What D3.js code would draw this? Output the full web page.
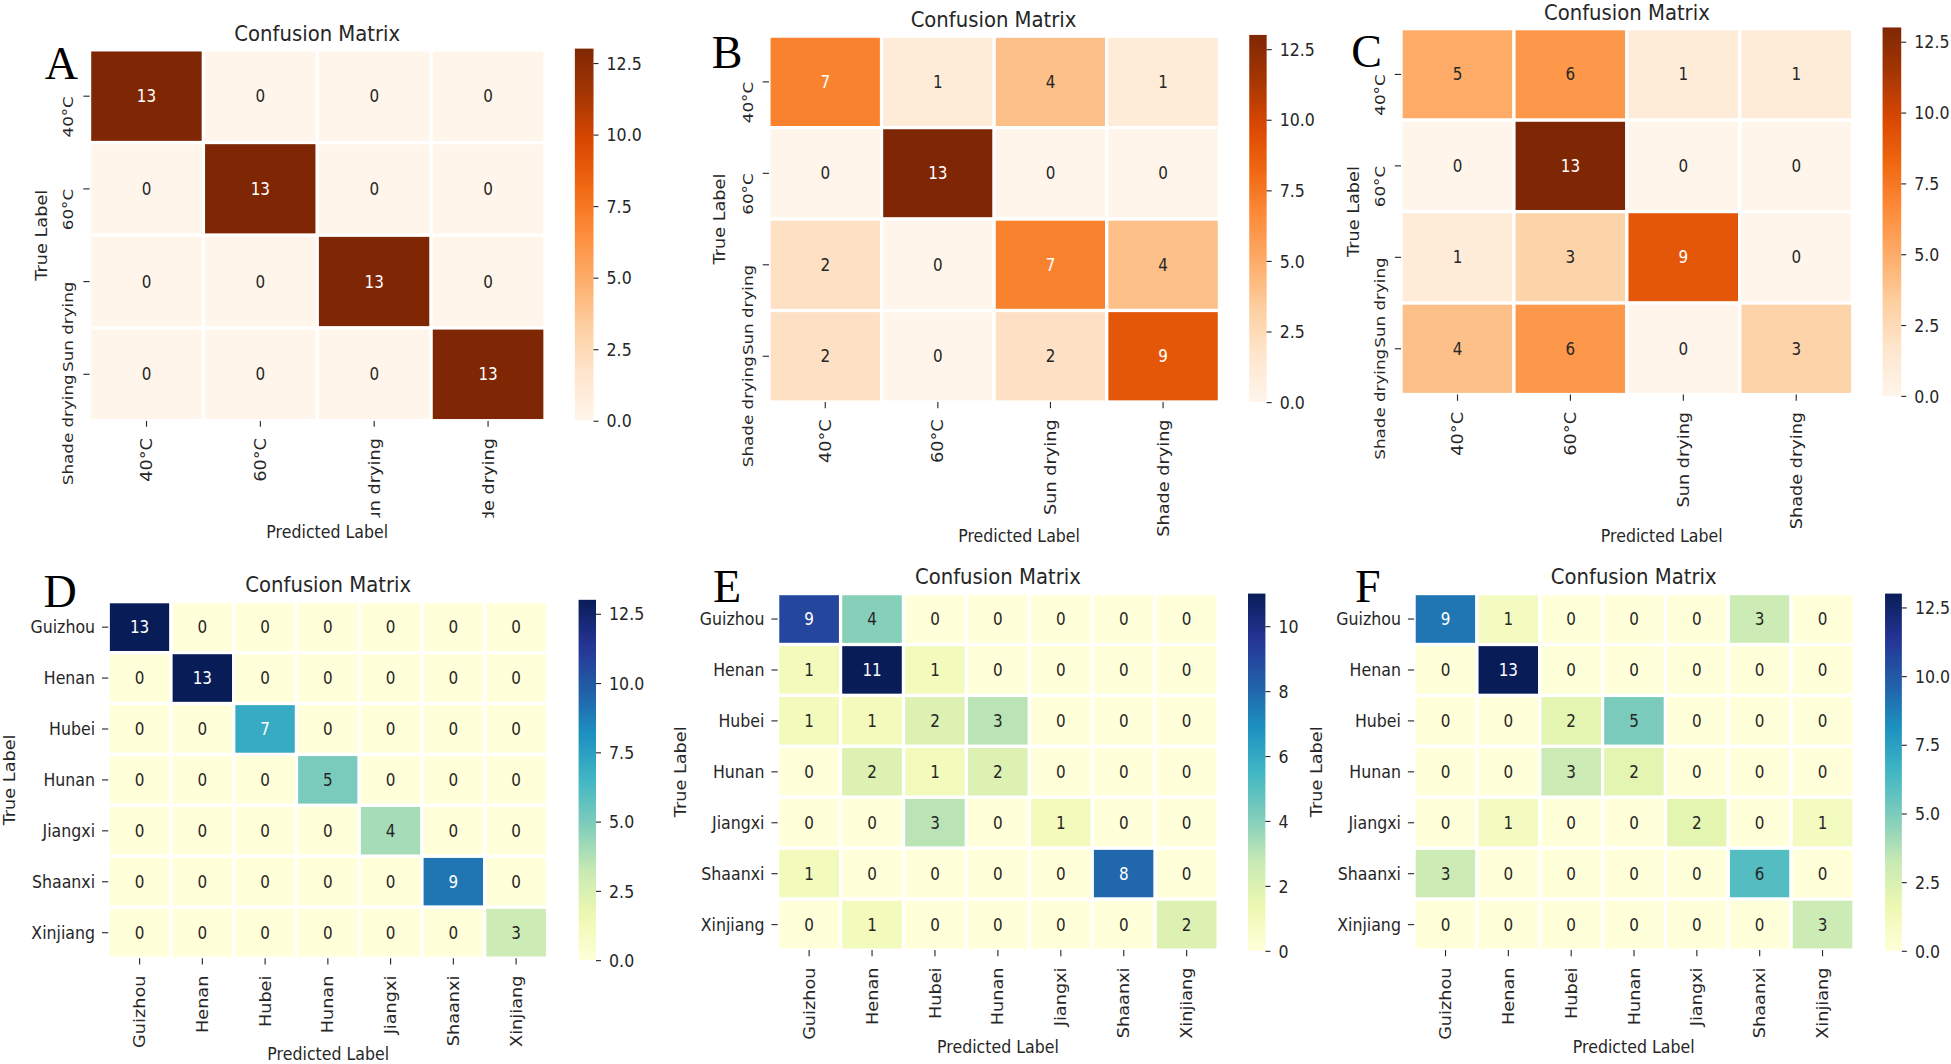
<!DOCTYPE html>
<html>
<head>
<meta charset="utf-8">
<script src="https://cdn.jsdelivr.net/npm/d3@7"></script>
<style>
  html, body { margin: 0; padding: 0; background: #fff; }
  svg { display: block; }
</style>
</head>
<body>
<svg id="chart" width="1951" height="1064" viewBox="0 0 1568 855"></svg>
<script>
// category labels
const dryingLabels = ['40°C', '60°C', 'Sun drying', 'Shade drying'];
const regionLabels = ['Guizhou', 'Henan', 'Hubei', 'Hunan', 'Jiangxi', 'Shaanxi', 'Xinjiang'];

// confusion matrices (rows = true label, cols = predicted label)
const matrixA = [
    [13, 0, 0, 0],
    [0, 13, 0, 0],
    [0, 0, 13, 0],
    [0, 0, 0, 13]
];
const matrixB = [
    [7, 1, 4, 1],
    [0, 13, 0, 0],
    [2, 0, 7, 4],
    [2, 0, 2, 9]
];
const matrixC = [
    [5, 6, 1, 1],
    [0, 13, 0, 0],
    [1, 3, 9, 0],
    [4, 6, 0, 3]
];
const matrixD = [
    [13, 0, 0, 0, 0, 0, 0],
    [0, 13, 0, 0, 0, 0, 0],
    [0, 0, 7, 0, 0, 0, 0],
    [0, 0, 0, 5, 0, 0, 0],
    [0, 0, 0, 0, 4, 0, 0],
    [0, 0, 0, 0, 0, 9, 0],
    [0, 0, 0, 0, 0, 0, 3]
];
const matrixE = [
    [9, 4, 0, 0, 0, 0, 0],
    [1, 11, 1, 0, 0, 0, 0],
    [1, 1, 2, 3, 0, 0, 0],
    [0, 2, 1, 2, 0, 0, 0],
    [0, 0, 3, 0, 1, 0, 0],
    [1, 0, 0, 0, 0, 8, 0],
    [0, 1, 0, 0, 0, 0, 2]
];
const matrixF = [
    [9, 1, 0, 0, 0, 3, 0],
    [0, 13, 0, 0, 0, 0, 0],
    [0, 0, 2, 5, 0, 0, 0],
    [0, 0, 3, 2, 0, 0, 0],
    [0, 1, 0, 0, 2, 0, 1],
    [3, 0, 0, 0, 0, 6, 0],
    [0, 0, 0, 0, 0, 0, 3]
];

// colorbar ranges and ticks
const vmax13 = 13, vmax11 = 11;
const cbTicks13 = [0, 2.5, 5, 7.5, 10, 12.5];
const cbTicks11 = [0, 2, 4, 6, 8, 10];

const FONT = "'DejaVu Sans', sans-serif";
const SERIF = "'Liberation Serif', 'Times New Roman', serif";
const INK = '#262626';
const S = 1.12;  // the source figure is a bit stretched vertically

// layout (viewBox units, 1568 x 855)
const panels = [
    { letter: 'A', labels: dryingLabels, matrix: matrixA, vmax: vmax13, ticks: cbTicks13, fmt: d3.format('.1f'),
      scheme: d3.schemeOranges[9], hm: [72, 438, 40, 338], cb: [462, 477, 39, 338], rotY: true,
      title: [255, 33], mark: [36, 63.5], yLab: 33, xLab: [263, 427.5], clipY: 416 },
    { letter: 'B', labels: dryingLabels, matrix: matrixB, vmax: vmax13, ticks: cbTicks13, fmt: d3.format('.1f'),
      scheme: d3.schemeOranges[9], hm: [618, 980, 29, 323], cb: [1004, 1018, 28, 323], rotY: true,
      title: [798.5, 21.5], mark: [572, 54.5], yLab: 578.6, xLab: [819, 430.5] },
    { letter: 'C', labels: dryingLabels, matrix: matrixC, vmax: vmax13, ticks: cbTicks13, fmt: d3.format('.1f'),
      scheme: d3.schemeOranges[9], hm: [1126, 1489, 23, 317], cb: [1513, 1528, 22, 318], rotY: true,
      title: [1307.5, 15.8], mark: [1086, 54], yLab: 1088, xLab: [1335.5, 430.5] },
    { letter: 'D', labels: regionLabels, matrix: matrixD, vmax: vmax13, ticks: cbTicks13, fmt: d3.format('.1f'),
      scheme: d3.schemeYlGnBu[9], hm: [87, 440, 483.5, 770], cb: [465, 479, 482, 771.5], rotY: false,
      title: [263.8, 475.6], mark: [35, 488], yLab: 8, xLab: [263.8, 846.5] },
    { letter: 'E', labels: regionLabels, matrix: matrixE, vmax: vmax11, ticks: cbTicks11, fmt: d3.format('d'),
      scheme: d3.schemeYlGnBu[9], hm: [625, 979, 477, 763.5], cb: [1003, 1017, 477, 764], rotY: false,
      title: [802, 469], mark: [573, 484], yLab: 547, xLab: [802, 841] },
    { letter: 'F', labels: regionLabels, matrix: matrixF, vmax: vmax13, ticks: cbTicks13, fmt: d3.format('.1f'),
      scheme: d3.schemeYlGnBu[9], hm: [1136.5, 1490, 477, 763.5], cb: [1515, 1528.5, 477, 764], rotY: false,
      title: [1313, 469], mark: [1089, 484], yLab: 1058, xLab: [1313, 841] }
];

const svg = d3.select('#chart');
const defs = svg.append('defs');

// matplotlib-style linear segmented colormap from the 9 brewer colours
const makeColor = (scheme, vmax) => d3.scaleLinear()
        .domain(d3.range(9).map(i => i * vmax / 8))
        .range(scheme)
        .interpolate(d3.interpolateRgb)
        .clamp(true);

// seaborn picks annotation colour from relative luminance
const luminance = c => {
    const rgb = d3.rgb(c);
    const lin = v => {
        v /= 255;
        return v <= 0.03928 ? v / 12.92 : Math.pow((v + 0.055) / 1.055, 2.4);
    };
    return 0.2126 * lin(rgb.r) + 0.7152 * lin(rgb.g) + 0.0722 * lin(rgb.b);
};

const styleText = (sel, size = 12.7) => sel
        .attr('font-family', FONT)
        .attr('font-size', size)
        .attr('fill', INK);

// put a text at (x, y), stretched like the source, optionally rotated
const place = (x, y, rot) => `translate(${x},${y}) scale(1,${S})` + (rot ? ` rotate(${rot})` : '');

panels.forEach(p => {
    const [x0, x1, y0, y1] = p.hm;
    const color = makeColor(p.scheme, p.vmax);

    const x = d3.scaleBand().domain(p.labels).range([x0, x1]);
    const y = d3.scaleBand().domain(p.labels).range([y0, y1]);

    const g = svg.append('g').attr('class', 'panel-' + p.letter);

    const cells = p.matrix.flatMap((row, i) =>
            row.map((v, j) => ({ truth: p.labels[i], pred: p.labels[j], v })));

    g.append('g')
        .selectAll('rect')
        .data(cells)
        .enter().append('rect')
        .attr('x', d => x(d.pred))
        .attr('y', d => y(d.truth))
        .attr('width', x.bandwidth())
        .attr('height', y.bandwidth())
        .attr('fill', d => color(d.v))
        .attr('stroke', '#fff')
        .attr('stroke-width', 2.6);

    g.append('g')
        .selectAll('text')
        .data(cells)
        .enter().append('text')
        .attr('transform', d => place(x(d.pred) + x.bandwidth() / 2, y(d.truth) + y.bandwidth() / 2))
        .attr('dy', '0.35em')
        .attr('text-anchor', 'middle')
        .call(styleText, 12.2)
        .attr('fill', d => luminance(color(d.v)) > 0.408 ? INK : '#fff')
        .text(d => d.v);

    // x axis, labels rotated
    const xAxis = g.append('g')
        .attr('transform', `translate(0,${y1})`)
        .call(d3.axisBottom(x).tickSize(5).tickSizeOuter(0));
    xAxis.select('.domain').remove();
    xAxis.selectAll('line').attr('stroke', INK).attr('stroke-width', 0.9);
    xAxis.selectAll('text')
        .call(styleText)
        .attr('x', 0)
        .attr('y', 0)
        .attr('dy', '0.35em')
        .attr('transform', place(0, 14, -90))
        .attr('text-anchor', 'end');

    if (p.clipY) {
        // the source panel is cut off just above its x label
        const id = 'clip-' + p.letter;
        defs.append('clipPath').attr('id', id)
            .append('rect')
            .attr('x', x0 - 20).attr('y', 0)
            .attr('width', x1 - x0 + 40).attr('height', p.clipY - y1);
        xAxis.attr('clip-path', `url(#${id})`);
    }

    // y axis
    const yAxis = g.append('g')
        .attr('transform', `translate(${x0},0)`)
        .call(d3.axisLeft(y).tickSize(5).tickSizeOuter(0));
    yAxis.select('.domain').remove();
    yAxis.selectAll('line').attr('stroke', INK).attr('stroke-width', 0.9);
    yAxis.selectAll('text')
        .call(styleText)
        .attr('x', 0)
        .attr('y', 0)
        .attr('text-anchor', 'end');
    if (p.rotY) {
        yAxis.selectAll('text')
            .attr('font-size', 12)
            .attr('dy', 0)
            .attr('transform', place(-13, 0, -90));
    } else {
        yAxis.selectAll('text')
            .attr('dy', '0.35em')
            .attr('transform', place(-10.6, 0));
    }

    // colorbar
    const [c0, c1, cy0, cy1] = p.cb;
    const gradId = 'grad-' + p.letter;
    const grad = defs.append('linearGradient').attr('id', gradId)
        .attr('x1', 0).attr('y1', 1).attr('x2', 0).attr('y2', 0);
    grad.selectAll('stop')
        .data(d3.range(0, 1.0001, 0.025))
        .enter().append('stop')
        .attr('offset', d => d)
        .attr('stop-color', d => color(d * p.vmax));

    g.append('rect')
        .attr('x', c0).attr('y', cy0)
        .attr('width', c1 - c0).attr('height', cy1 - cy0)
        .attr('fill', `url(#${gradId})`);

    const cbScale = d3.scaleLinear().domain([0, p.vmax]).range([cy1, cy0]);
    const cbAxis = g.append('g')
        .attr('transform', `translate(${c1},0)`)
        .call(d3.axisRight(cbScale).tickValues(p.ticks).tickFormat(p.fmt).tickSize(4));
    cbAxis.select('.domain').remove();
    cbAxis.selectAll('line').attr('stroke', INK).attr('stroke-width', 0.9);
    cbAxis.selectAll('text')
        .call(styleText)
        .attr('x', 0)
        .attr('dy', '0.35em')
        .attr('transform', place(10.5, 0))
        .attr('text-anchor', 'start');

    // titles and labels
    g.append('text')
        .attr('transform', place(p.title[0], p.title[1]))
        .attr('text-anchor', 'middle')
        .call(styleText, 15.8)
        .text('Confusion Matrix');

    g.append('text')
        .attr('transform', place(p.xLab[0], p.xLab[1]))
        .attr('dy', '0.35em')
        .attr('text-anchor', 'middle')
        .call(styleText)
        .text('Predicted Label');

    g.append('text')
        .attr('transform', place(p.yLab, (y0 + y1) / 2, -90))
        .attr('dy', '0.35em')
        .attr('text-anchor', 'middle')
        .call(styleText)
        .text('True Label');

    g.append('text')
        .attr('x', p.mark[0]).attr('y', p.mark[1])
        .attr('font-family', SERIF)
        .attr('font-size', 37)
        .attr('fill', '#000')
        .text(p.letter);
});
</script>
</body>
</html>
